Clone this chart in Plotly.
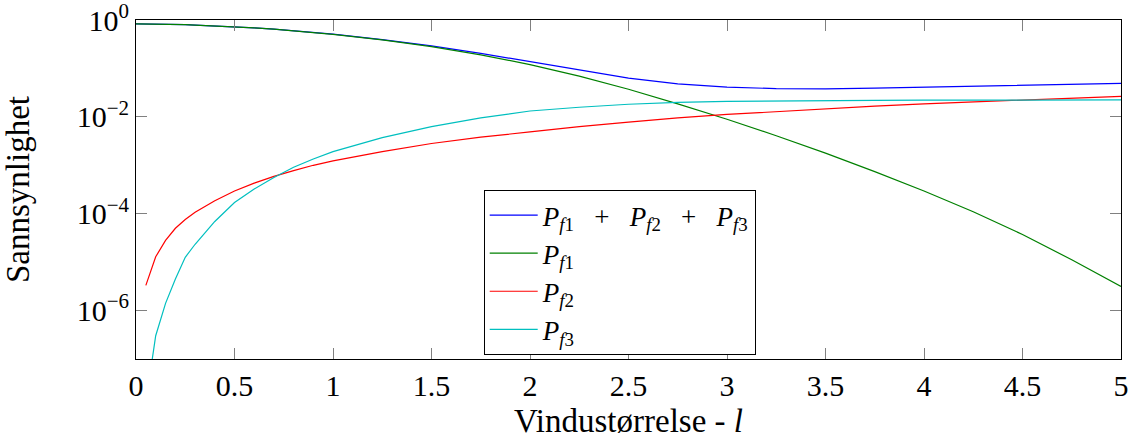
import plotly.graph_objects as go

# Window size l
l_values = [0, 0.05, 0.1, 0.15, 0.2, 0.25, 0.3, 0.4, 0.5, 0.6, 0.7, 0.8, 0.9, 1.0,
            1.25, 1.5, 1.75, 2.0, 2.25, 2.5, 2.75, 3.0, 3.25, 3.5, 3.75, 4.0,
            4.25, 4.5, 4.75, 5.0]

# Failure probabilities (None where the probability is zero)
p_f1 = [0.832, 0.830, 0.826, 0.820, 0.811, 0.800, 0.787, 0.759, 0.724, 0.687,
        0.646, 0.603, 0.556, 0.507, 0.389, 0.282, 0.191, 0.120, 0.0692, 0.0372,
        0.0186, 0.00891, 0.00407, 0.00178, 7.41e-4, 2.95e-4, 1.10e-4, 3.72e-5,
        1.12e-5, 3.16e-6]

p_f2 = [None, 3.31e-6, 1.29e-5, 2.82e-5, 5.01e-5, 7.59e-5, 1.07e-4, 1.86e-4,
        2.95e-4, 4.27e-4, 5.89e-4, 7.76e-4, 1.00e-3, 1.23e-3, 1.91e-3, 2.82e-3,
        3.80e-3, 4.90e-3, 6.31e-3, 7.76e-3, 9.55e-3, 1.12e-2, 1.29e-2, 1.46e-2,
        1.66e-2, 1.86e-2, 2.04e-2, 2.24e-2, 2.45e-2, 2.66e-2]

p_f3 = [None, 1.26e-8, 3.02e-7, 1.41e-6, 4.47e-6, 1.26e-5, 2.34e-5, 6.92e-5,
        1.70e-4, 3.24e-4, 5.62e-4, 9.12e-4, 1.35e-3, 1.91e-3, 3.72e-3, 6.31e-3,
        9.55e-3, 1.32e-2, 1.58e-2, 1.82e-2, 2.00e-2, 2.09e-2, 2.14e-2, 2.16e-2,
        2.19e-2, 2.21e-2, 2.23e-2, 2.24e-2, 2.24e-2, 2.24e-2]

# Total failure probability
p_total = [a + (b or 0.0) + (c or 0.0) for a, b, c in zip(p_f1, p_f2, p_f3)]

y_tickvals = [1, 1e-2, 1e-4, 1e-6]
y_ticktext = ["10<sup>0</sup>", "10<sup>−2</sup>", "10<sup>−4</sup>", "10<sup>−6</sup>"]

FONT = "Liberation Serif, DejaVu Serif, serif"
SP = "\u2002\u2005"

def pf(i):
    return f"<i>P</i><sub><i>f</i>{i}</sub>"

series = [
    (f"{pf(1)}{SP}+{SP}{pf(2)}{SP}+{SP}{pf(3)}", p_total, "#0000ff"),
    (pf(1), p_f1, "#008000"),
    (pf(2), p_f2, "#ff0000"),
    (pf(3), p_f3, "#00bfbf"),
]

fig = go.Figure()
for name, vals, color in series:
    fig.add_trace(go.Scatter(
        x=l_values, y=vals, mode="lines", name=name,
        line=dict(color=color, width=1.2),
        connectgaps=False,
    ))

axis_common = dict(
    showline=True, linecolor="black", linewidth=1, mirror="ticks",
    ticks="inside", ticklen=11, tickcolor="#808080", tickwidth=1,
    showgrid=False, zeroline=False, automargin=False,
    ticklabeloverflow="allow",
    tickfont=dict(family=FONT, size=30, color="black"),
)

fig.update_xaxes(
    range=[0, 5], dtick=0.5, tick0=0,
    title=dict(text="Vindustørrelse - <i>l</i>", font=dict(family=FONT, size=33, color="black"),
               standoff=23),
    **axis_common,
)
fig.update_yaxes(
    type="log", range=[-7, 0],
    tickvals=y_tickvals, ticktext=y_ticktext,
    title=dict(text="Sannsynlighet", font=dict(family=FONT, size=33, color="black"),
               standoff=37),
    **axis_common,
)

fig.update_layout(
    width=1133, height=439,
    margin=dict(l=136, r=12, t=20, b=80),
    paper_bgcolor="white", plot_bgcolor="white",
    font=dict(family=FONT, color="black"),
    showlegend=True,
    legend=dict(
        x=0.353, y=0.4985, xanchor="left", yanchor="top",
        bordercolor="black", borderwidth=1, bgcolor="white",
        font=dict(family=FONT, size=27, color="black"),
        tracegroupgap=0, itemwidth=48,
    ),
)

fig.write_html("out.html")
